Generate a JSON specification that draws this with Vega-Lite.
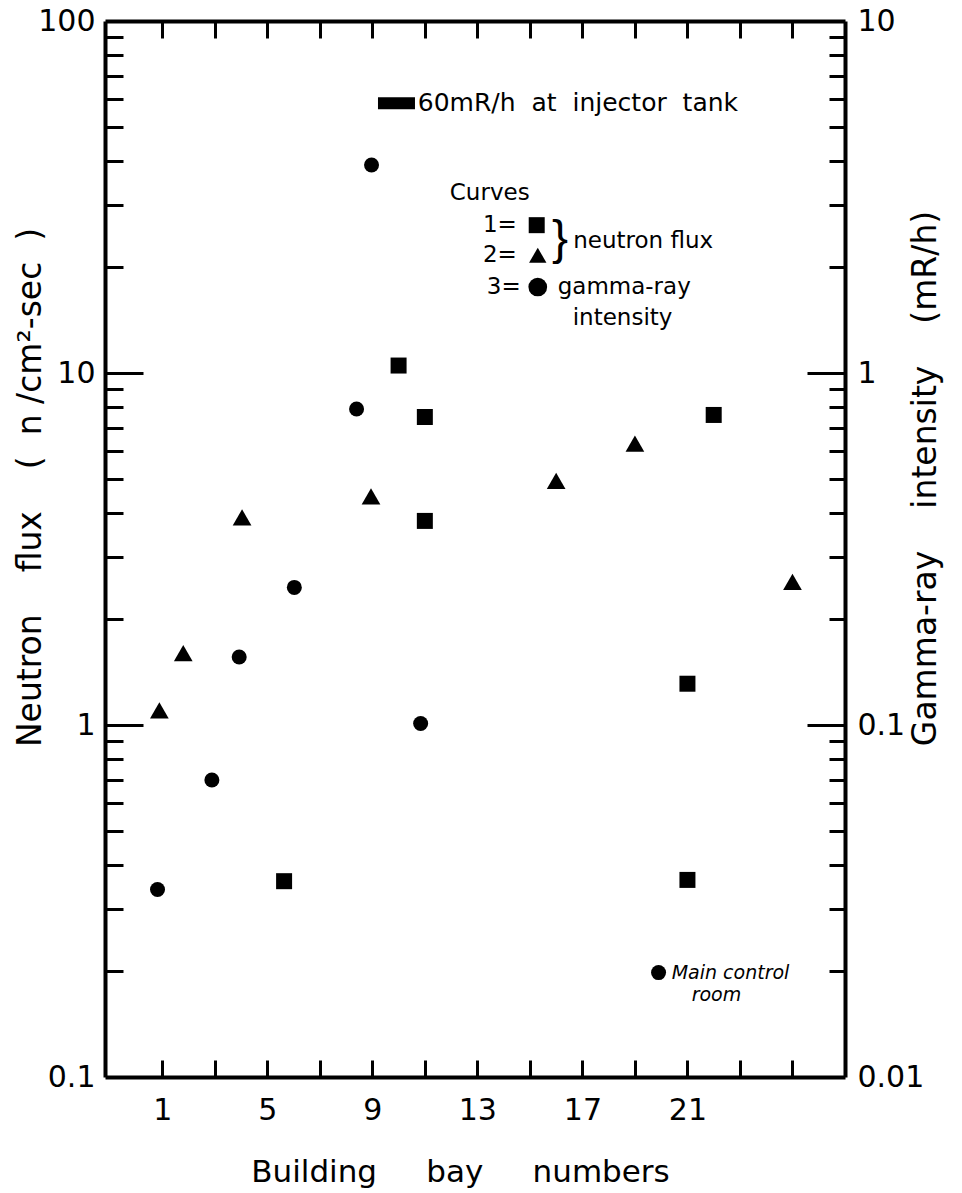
{
  "$schema": "https://vega.github.io/schema/vega-lite/v6.json",
  "width": 740,
  "height": 1056,
  "autosize": "none",
  "padding": {"left": 105, "top": 21, "right": 117, "bottom": 116},
  "background": "white",
  "config": {
    "view": {"stroke": null},
    "axis": {
      "grid": false, "domainColor": "#000", "tickColor": "#000", "labelColor": "#000", "titleColor": "#000",
      "labelFont": "DejaVu Sans", "titleFont": "DejaVu Sans", "labelFontSize": 30, "titleFontSize": 31,
      "titleFontWeight": "normal", "domainWidth": 4, "tickWidth": 3, "labelFlush": false, "labelOverlap": false
    },
    "text": {"font": "DejaVu Sans", "color": "#000"}
  },
  "datasets": {
    "neutron": [
      {"curve": "1", "bay": 5.64, "flux": 0.36},
      {"curve": "1", "bay": 10.0, "flux": 10.5},
      {"curve": "1", "bay": 11.0, "flux": 7.5},
      {"curve": "1", "bay": 11.0, "flux": 3.8},
      {"curve": "1", "bay": 21.0, "flux": 1.31},
      {"curve": "1", "bay": 21.0, "flux": 0.363},
      {"curve": "1", "bay": 22.0, "flux": 7.6},
      {"curve": "2", "bay": 0.89, "flux": 1.10},
      {"curve": "2", "bay": 1.8, "flux": 1.60},
      {"curve": "2", "bay": 4.04, "flux": 3.89},
      {"curve": "2", "bay": 8.95, "flux": 4.46},
      {"curve": "2", "bay": 16.0, "flux": 4.94},
      {"curve": "2", "bay": 19.0, "flux": 6.3},
      {"curve": "2", "bay": 25.0, "flux": 2.55}
    ],
    "gamma": [
      {"curve": "3", "bay": 0.82, "gamma": 0.0341},
      {"curve": "3", "bay": 2.89, "gamma": 0.0698},
      {"curve": "3", "bay": 3.93, "gamma": 0.156},
      {"curve": "3", "bay": 6.03, "gamma": 0.246},
      {"curve": "3", "bay": 8.4, "gamma": 0.79},
      {"curve": "3", "bay": 8.97, "gamma": 3.9},
      {"curve": "3", "bay": 10.84, "gamma": 0.101},
      {"curve": "3", "bay": 19.9, "gamma": 0.0198}
    ],
    "bar": [{"bay": 9.92, "flux": 58.4}],
    "barText": [{"bay": 10.73, "flux": 58.6, "label": "60mR/h\u00a0 at\u00a0 injector\u00a0 tank"}],
    "legendText": [
      {"bay": 11.95, "flux": 32.5, "label": "Curves"},
      {"bay": 13.21, "flux": 26.3, "label": "1="},
      {"bay": 13.21, "flux": 21.6, "label": "2="},
      {"bay": 13.36, "flux": 17.55, "label": "3="},
      {"bay": 16.65, "flux": 23.7, "label": "neutron flux"},
      {"bay": 16.06, "flux": 17.55, "label": "gamma-ray"},
      {"bay": 16.63, "flux": 14.33, "label": "intensity"}
    ],
    "legendSymbols": [
      {"curve": "1", "bay": 15.26, "flux": 26.3},
      {"curve": "2", "bay": 15.3, "flux": 21.6},
      {"curve": "3", "bay": 15.3, "flux": 17.55}
    ],
    "brace": [{"bay": 15.84, "flux": 23.8, "label": "}"}],
    "roomText": [
      {"bay": 20.4, "flux": 0.1899, "label": "Main control"},
      {"bay": 21.16, "flux": 0.1645, "label": "room"}
    ]
  },
  "resolve": {
    "scale": {"x": "independent", "y": "independent", "shape": "independent", "size": "independent"},
    "axis": {"x": "independent", "y": "independent"}
  },
  "layer": [
    {
      "data": {"name": "neutron"},
      "mark": {"type": "point", "filled": true, "opacity": 1, "color": "#000", "strokeWidth": 0},
      "encoding": {
        "x": {"field": "bay", "type": "quantitative", "scale": {"domain": [-1.18, 27], "nice": false, "zero": false},
          "axis": {"orient": "bottom", "values": [1, 5, 9, 13, 17, 21], "ticks": false, "labelPadding": 18, "domain": true,
            "title": "Building\u00a0\u00a0\u00a0\u00a0\u00a0bay\u00a0\u00a0\u00a0\u00a0\u00a0numbers", "titleX": 355, "titleY": 95, "titleBaseline": "middle", "titleAlign": "center"}},
        "y": {"field": "flux", "type": "quantitative", "scale": {"type": "log", "domain": [0.1, 100], "nice": false},
          "axis": {"orient": "left", "values": [0.1, 1, 10, 100], "format": "~g", "ticks": false, "labelPadding": 10, "domain": true,
            "title": "Neutron\u00a0\u00a0\u00a0\u00a0flux\u00a0\u00a0\u00a0\u00a0(\u00a0\u00a0n\u00a0/cm²-sec\u00a0\u00a0)",
            "titleFontSize": 33, "titleAngle": 270, "titleX": -75, "titleY": 466,
            "titleBaseline": "middle", "titleAlign": "center"}},
        "shape": {"field": "curve", "type": "nominal", "scale": {"domain": ["1", "2"], "range": ["square", "triangle-up"]}, "legend": null},
        "size": {"field": "curve", "type": "nominal", "scale": {"domain": ["1", "2"], "range": [256, 350]}, "legend": null}
      }
    },
    {
      "data": {"name": "gamma"},
      "mark": {"type": "point", "shape": "circle", "size": 225, "filled": true, "opacity": 1, "color": "#000", "strokeWidth": 0},
      "encoding": {
        "x": {"field": "bay", "type": "quantitative", "scale": {"domain": [-1.18, 27], "nice": false, "zero": false},
          "axis": {"orient": "top", "values": [1, 3, 5, 7, 9, 11, 13, 15, 17, 19, 21, 23, 25], "tickSize": -17, "labels": false, "domain": true, "title": null}},
        "y": {"field": "gamma", "type": "quantitative", "scale": {"type": "log", "domain": [0.01, 10], "nice": false},
          "axis": {"orient": "right", "values": [0.01, 0.1, 1, 10], "format": "~g", "ticks": false, "labelPadding": 12, "domain": true,
            "title": "Gamma-ray\u00a0\u00a0\u00a0\u00a0intensity\u00a0\u00a0\u00a0\u00a0(mR/h)",
            "titleFontSize": 33, "titleAngle": 270, "titleX": 80, "titleY": 457,
            "titleBaseline": "middle", "titleAlign": "center"}}
      }
    },
    {
      "data": {"name": "bar"},
      "mark": {"type": "tick", "orient": "horizontal", "size": 37, "thickness": 12, "color": "#000", "opacity": 1},
      "encoding": {
        "x": {"field": "bay", "type": "quantitative", "scale": {"domain": [-1.18, 27], "nice": false, "zero": false},
          "axis": {"orient": "bottom", "values": [1, 3, 5, 7, 9, 11, 13, 15, 17, 19, 21, 23, 25], "tickSize": -17, "labels": false, "domain": false, "title": null}},
        "y": {"field": "flux", "type": "quantitative", "scale": {"type": "log", "domain": [0.1, 100], "nice": false},
          "axis": {"orient": "left", "values": [1, 10], "tickSize": -38, "labels": false, "domain": false, "title": null}}
      }
    },
    {
      "data": {"name": "barText"},
      "mark": {"type": "text", "align": "left", "baseline": "middle", "fontSize": 25},
      "encoding": {
        "x": {"field": "bay", "type": "quantitative", "scale": {"domain": [-1.18, 27], "nice": false, "zero": false}, "axis": null},
        "y": {"field": "flux", "type": "quantitative", "scale": {"type": "log", "domain": [0.1, 100], "nice": false},
          "axis": {"orient": "left", "values": [0.2, 0.3, 0.4, 0.5, 0.6, 0.7, 0.8, 0.9, 2, 3, 4, 5, 6, 7, 8, 9, 20, 30, 40, 50, 60, 70, 80, 90], "tickSize": -18, "labels": false, "domain": false, "title": null}},
        "text": {"field": "label"}
      }
    },
    {
      "data": {"name": "legendText"},
      "mark": {"type": "text", "align": "left", "baseline": "middle", "fontSize": 23},
      "encoding": {
        "x": {"field": "bay", "type": "quantitative", "scale": {"domain": [-1.18, 27], "nice": false, "zero": false}, "axis": null},
        "y": {"field": "flux", "type": "quantitative", "scale": {"type": "log", "domain": [0.1, 100], "nice": false},
          "axis": {"orient": "right", "values": [1, 10], "tickSize": -38, "labels": false, "domain": false, "title": null}},
        "text": {"field": "label"}
      }
    },
    {
      "data": {"name": "roomText"},
      "mark": {"type": "text", "align": "left", "baseline": "alphabetic", "fontSize": 19, "fontStyle": "italic"},
      "encoding": {
        "x": {"field": "bay", "type": "quantitative", "scale": {"domain": [-1.18, 27], "nice": false, "zero": false}, "axis": null},
        "y": {"field": "flux", "type": "quantitative", "scale": {"type": "log", "domain": [0.1, 100], "nice": false},
          "axis": {"orient": "right", "values": [0.2, 0.3, 0.4, 0.5, 0.6, 0.7, 0.8, 0.9, 2, 3, 4, 5, 6, 7, 8, 9, 20, 30, 40, 50, 60, 70, 80, 90], "tickSize": -16, "labels": false, "domain": false, "title": null}},
        "text": {"field": "label"}
      }
    },
    {
      "data": {"name": "legendSymbols"},
      "mark": {"type": "point", "filled": true, "opacity": 1, "color": "#000", "strokeWidth": 0},
      "encoding": {
        "x": {"field": "bay", "type": "quantitative", "scale": {"domain": [-1.18, 27], "nice": false, "zero": false}, "axis": null},
        "y": {"field": "flux", "type": "quantitative", "scale": {"type": "log", "domain": [0.1, 100], "nice": false}, "axis": null},
        "shape": {"field": "curve", "type": "nominal", "scale": {"domain": ["1", "2", "3"], "range": ["square", "triangle-up", "circle"]}, "legend": null},
        "size": {"field": "curve", "type": "nominal", "scale": {"domain": ["1", "2", "3"], "range": [256, 350, 225]}, "legend": null}
      }
    },
    {
      "data": {"name": "brace"},
      "mark": {"type": "text", "align": "left", "baseline": "middle", "fontSize": 48, "font": "Liberation Sans", "fontWeight": 300},
      "encoding": {
        "x": {"field": "bay", "type": "quantitative", "scale": {"domain": [-1.18, 27], "nice": false, "zero": false}, "axis": null},
        "y": {"field": "flux", "type": "quantitative", "scale": {"type": "log", "domain": [0.1, 100], "nice": false}, "axis": null},
        "text": {"field": "label"}
      }
    }
  ]
}
